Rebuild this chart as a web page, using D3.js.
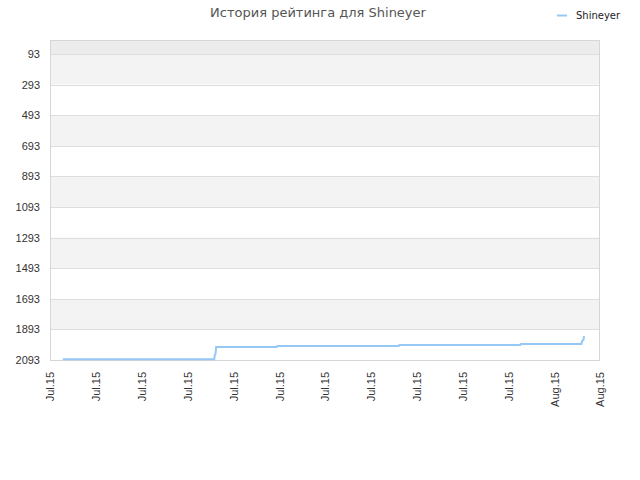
<!DOCTYPE html>
<html>
<head>
<meta charset="utf-8">
<script src="https://cdn.jsdelivr.net/npm/d3@7"></script>
<style>
  body { margin: 0; background: #fff; }
  svg { font-family: "DejaVu Sans", sans-serif; }
</style>
</head>
<body>
<div id="chart"></div>
<script>
const playerName = "Shineyer";
const titleText = "История рейтинга для " + playerName;

// rating history (timestamps in UTC, rank positions)
const dates = [
  "2015-07-01T20:00", "2015-07-11T18:00", "2015-07-11T19:00", "2015-07-11T20:00",
  "2015-07-11T21:00", "2015-07-15T20:00", "2015-07-15T21:00", "2015-07-23T20:00",
  "2015-07-23T21:00", "2015-07-31T19:00", "2015-07-31T20:00", "2015-08-04T19:00",
  "2015-08-04T20:00", "2015-08-04T22:00", "2015-08-04T23:00"
];
const ranks = [2088, 2088, 2060, 2055, 2008, 2008, 2001, 2001, 1995, 1995, 1988, 1988, 1968, 1962, 1936];

const yTicks = [93, 293, 493, 693, 893, 1093, 1293, 1493, 1693, 1893, 2093];
const rankDomain = [1, 2093];
const timeDomain = ["2015-07-01T00:00", "2015-08-06T00:00"];

const parse = d3.utcParse("%Y-%m-%dT%H:%M");
const data = dates.map((d, i) => ({ date: parse(d), rank: ranks[i] }));

const width = 640, height = 480;
const margin = { top: 40, right: 40, bottom: 120, left: 50 };

const svg = d3.select("#chart").append("svg").attr("width", width).attr("height", height);

const x = d3.scaleUtc().domain(timeDomain.map(parse)).range([margin.left, width - margin.right]);
const y = d3.scaleLinear().domain(rankDomain).range([margin.top, height - margin.bottom]);

// alternating bands
const bandEdges = [rankDomain[0]].concat(yTicks);
for (let i = 0; i < bandEdges.length - 1; i++) {
  const fill = i === 0 ? "#ececec" : (i % 2 === 1 ? "#f3f3f3" : "#ffffff");
  svg.append("rect")
    .attr("x", margin.left).attr("width", width - margin.right - margin.left)
    .attr("y", y(bandEdges[i])).attr("height", y(bandEdges[i + 1]) - y(bandEdges[i]))
    .attr("fill", fill);
}

// grid lines
svg.append("g").selectAll("line").data(yTicks).enter().append("line")
  .attr("x1", margin.left).attr("x2", width - margin.right)
  .attr("y1", d => Math.round(y(d)) + 0.5).attr("y2", d => Math.round(y(d)) + 0.5)
  .attr("stroke", "#dedede");

// frame
svg.append("rect")
  .attr("x", margin.left + 0.5).attr("y", margin.top + 0.5)
  .attr("width", width - margin.right - margin.left - 1).attr("height", height - margin.bottom - margin.top)
  .attr("fill", "none").attr("stroke", "#d6d6d6");

// y axis
const yAxis = svg.append("g").attr("transform", `translate(${margin.left},0)`)
  .call(d3.axisLeft(y).tickValues(yTicks).tickFormat(d3.format("d")).tickSize(0).tickPadding(10));
yAxis.select(".domain").remove();
yAxis.selectAll("text").attr("fill", "#333").attr("font-size", "11px");

// x axis
const xTicks = d3.utcDay.range(x.domain()[0], d3.utcDay.offset(x.domain()[1], 1), 3);
const xAxis = svg.append("g").attr("transform", `translate(0,${height - margin.bottom})`)
  .call(d3.axisBottom(x).tickValues(xTicks).tickFormat(d3.utcFormat("%b.%y")).tickSize(0).tickPadding(0));
xAxis.select(".domain").remove();
xAxis.selectAll("text")
  .attr("fill", "#333").attr("font-size", "11px")
  .attr("text-anchor", "end")
  .attr("transform", "rotate(-90)")
  .attr("x", -12).attr("y", 0).attr("dy", "0.35em");

// rating line
const line = d3.line().x(d => x(d.date)).y(d => y(d.rank));
svg.append("path").datum(data)
  .attr("fill", "none").attr("stroke", "#96c8f5").attr("stroke-width", 2)
  .attr("d", line);

// title
svg.append("text").attr("x", 318).attr("y", 17).attr("text-anchor", "middle")
  .attr("fill", "#555").attr("font-size", "13px").text(titleText);

// legend
svg.append("line").attr("x1", 557).attr("x2", 567).attr("y1", 15.5).attr("y2", 15.5)
  .attr("stroke", "#96c8f5").attr("stroke-width", 2);
svg.append("text").attr("x", 576).attr("y", 19)
  .attr("fill", "#222").attr("font-size", "10px").text(playerName);
</script>
</body>
</html>
